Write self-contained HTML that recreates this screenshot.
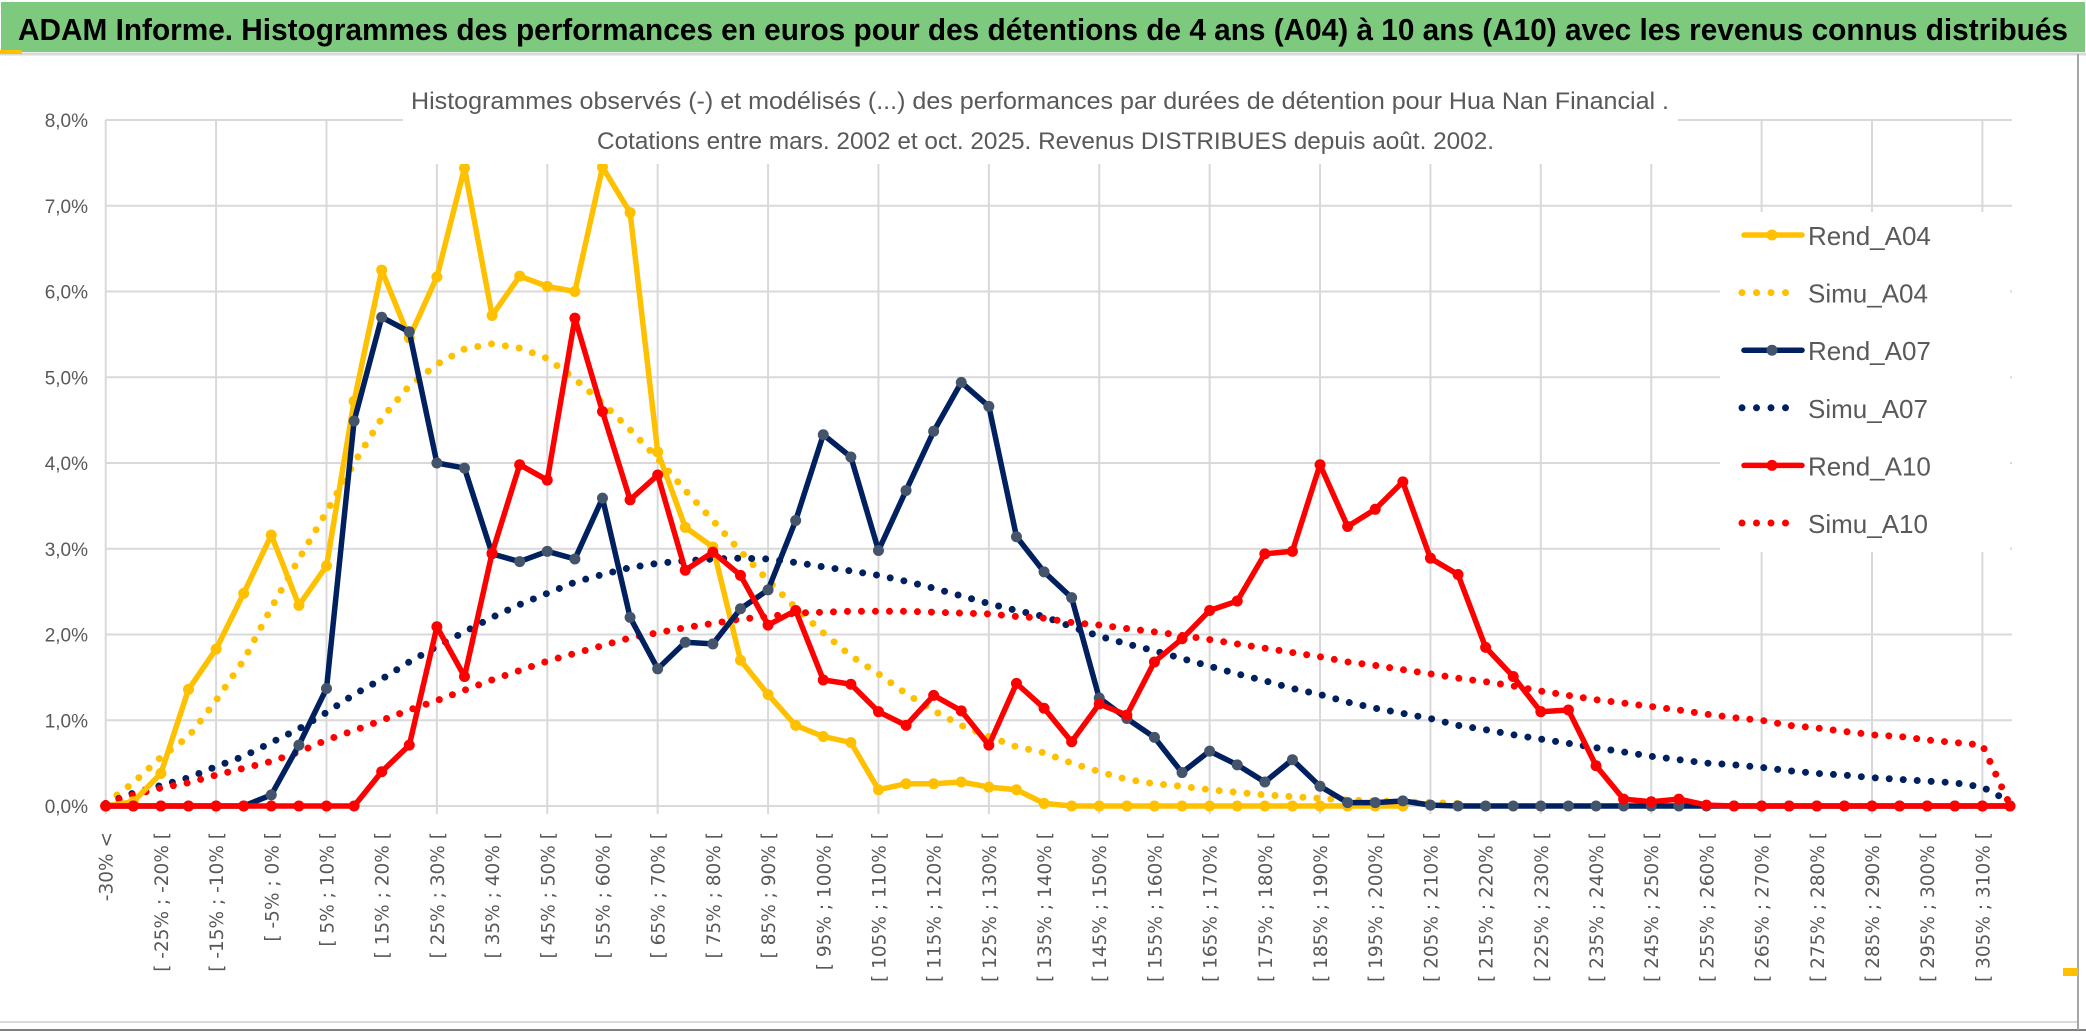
<!DOCTYPE html>
<html><head><meta charset="utf-8">
<style>
html,body{margin:0;padding:0;background:#fff;}
svg{display:block;}
</style></head>
<body>
<svg id="chart" width="2086" height="1033" viewBox="0 0 2086 1033" xmlns="http://www.w3.org/2000/svg">
  <rect x="0" y="0" width="2086" height="1033" fill="#fff"/>
  <rect x="1" y="2" width="2084" height="50" fill="#7DC97E"/>
  <text x="18" y="40" font-family="Liberation Sans, sans-serif" font-size="31" font-weight="bold" fill="#000" textLength="2050" lengthAdjust="spacingAndGlyphs">ADAM Informe. Histogrammes des performances en euros pour des détentions de 4 ans (A04) à 10 ans (A10) avec les revenus connus distribués</text>
  <line x1="0" y1="54" x2="2086" y2="54" stroke="#d9d9d9" stroke-width="3"/>
  <rect x="0" y="50" width="22" height="4" fill="#FFC000"/>
  <g id="grid"></g>
  <g id="series"></g>
  <g id="axes"></g>
  <rect x="403" y="72" width="1275" height="92" fill="#fff"/>
  <text x="411" y="109" font-family="Liberation Sans, sans-serif" font-size="24" fill="#595959" textLength="1258" lengthAdjust="spacingAndGlyphs">Histogrammes observés (-) et modélisés (...) des performances par durées de détention pour Hua Nan Financial .</text>
  <text x="597" y="149" font-family="Liberation Sans, sans-serif" font-size="24" fill="#595959" textLength="897" lengthAdjust="spacingAndGlyphs">Cotations entre mars. 2002 et oct. 2025. Revenus DISTRIBUES depuis août. 2002.</text>
  <g id="legend"></g>
  <line x1="0" y1="1022" x2="2078" y2="1022" stroke="#d9d9d9" stroke-width="2"/>
  <line x1="0" y1="1030" x2="2086" y2="1030" stroke="#7f7f7f" stroke-width="2"/>
  <line x1="2078" y1="54" x2="2078" y2="1030" stroke="#a6a6a6" stroke-width="2"/>
  <rect x="2063" y="968" width="15" height="8" fill="#FFC000"/>
</svg>
<script>
const categories = [];
for (let k = 0; k < 70; k++) categories.push(k === 0 ? "-30% <" : "[ " + (5*k-35) + "% ; " + (5*k-30) + "% [");
const yTicks = [0,1,2,3,4,5,6,7,8];
const yTickLabels = ["0,0%","1,0%","2,0%","3,0%","4,0%","5,0%","6,0%","7,0%","8,0%"];
const rendA04 = [0,0.05,0.38,1.36,1.83,2.48,3.16,2.34,2.8,4.72,6.25,5.46,6.17,7.44,5.72,6.18,6.06,6.0,7.45,6.92,4.13,3.25,3.02,1.70,1.30,0.94,0.81,0.74,0.19,0.26,0.26,0.28,0.22,0.19,0.03,0,0,0,0,0,0,0,0,0,0,0,0,0];
const simuA04 = [0.03,0.27,0.57,0.81,1.23,1.70,2.31,2.88,3.43,4.0,4.52,4.90,5.15,5.33,5.39,5.34,5.22,4.98,4.70,4.39,4.05,3.68,3.33,2.97,2.63,2.31,2.02,1.75,1.54,1.31,1.11,0.94,0.81,0.69,0.62,0.50,0.40,0.31,0.26,0.23,0.19,0.16,0.13,0.11,0.09,0.07,0.06,0.05,0.04,0.03];
const rendA07 = [0,0,0,0,0,0,0.13,0.71,1.37,4.49,5.70,5.53,4.00,3.94,2.94,2.85,2.97,2.88,3.59,2.20,1.60,1.91,1.89,2.30,2.52,3.33,4.33,4.07,2.98,3.68,4.37,4.94,4.66,3.14,2.73,2.43,1.26,1.02,0.80,0.39,0.64,0.48,0.28,0.54,0.23,0.04,0.04,0.06,0.01,0,0,0,0,0,0,0,0,0,0,0,0,0,0,0,0,0,0,0,0,0];
const simuA07 = [0.03,0.15,0.24,0.33,0.46,0.58,0.74,0.90,1.09,1.30,1.48,1.68,1.86,2.03,2.20,2.35,2.48,2.61,2.70,2.78,2.83,2.86,2.88,2.89,2.88,2.84,2.79,2.74,2.69,2.62,2.54,2.45,2.36,2.28,2.21,2.09,1.98,1.89,1.81,1.72,1.63,1.54,1.46,1.37,1.30,1.21,1.14,1.08,1.02,0.94,0.89,0.83,0.78,0.73,0.68,0.63,0.58,0.54,0.50,0.48,0.45,0.41,0.38,0.36,0.33,0.31,0.29,0.27,0.22,0.05];
const rendA10 = [0,0,0,0,0,0,0,0,0,0,0.40,0.71,2.09,1.51,2.95,3.98,3.80,5.69,4.60,3.57,3.86,2.75,2.96,2.69,2.11,2.28,1.47,1.42,1.10,0.94,1.29,1.11,0.71,1.43,1.14,0.75,1.19,1.06,1.68,1.95,2.28,2.39,2.94,2.97,3.98,3.26,3.46,3.78,2.89,2.70,1.85,1.51,1.10,1.12,0.47,0.08,0.05,0.08,0.01,0,0,0,0,0,0,0,0,0,0,0];
const simuA10 = [0.03,0.13,0.21,0.27,0.36,0.44,0.52,0.63,0.77,0.88,1.00,1.12,1.23,1.35,1.47,1.58,1.69,1.78,1.87,1.96,2.02,2.08,2.13,2.18,2.21,2.25,2.26,2.27,2.27,2.27,2.26,2.25,2.24,2.21,2.19,2.14,2.11,2.07,2.03,1.99,1.94,1.89,1.84,1.79,1.74,1.68,1.64,1.59,1.54,1.49,1.45,1.40,1.34,1.29,1.24,1.20,1.16,1.12,1.07,1.03,1.00,0.94,0.91,0.87,0.83,0.81,0.77,0.74,0.71,0.01];
const seriesNames = ["Rend_A04","Simu_A04","Rend_A07","Simu_A07","Rend_A10","Simu_A10"];

const NS = "http://www.w3.org/2000/svg";
const X0 = 105.7, X1 = 2010, Y0 = 806, YTOP = 120, YMAX = 8;
const xPos = i => X0 + (X1 - X0) * i / (categories.length - 1);
const yPos = v => Y0 - (Y0 - YTOP) * v / YMAX;
function mk(tag, attrs, parent) {
  const e = document.createElementNS(NS, tag);
  for (const k in attrs) e.setAttribute(k, attrs[k]);
  parent.appendChild(e);
  return e;
}
const grid = document.getElementById("grid");
const axes = document.getElementById("axes");
const series = document.getElementById("series");
const legend = document.getElementById("legend");

yTicks.forEach((t, j) => {
  const l = mk("line", {x1: X0, x2: 2012, y1: yPos(t), y2: yPos(t), stroke: "#d9d9d9", "stroke-width": 2}, grid);
  
  
  const tx = mk("text", {x: 88, y: yPos(t) + 7, "text-anchor": "end", "font-family": "Liberation Sans, sans-serif", "font-size": 19, fill: "#595959"}, axes);
  tx.textContent = yTickLabels[j];
  
  
});
for (let i = 0; i < categories.length; i += 4) {
  const l = mk("line", {x1: xPos(i), x2: xPos(i), y1: YTOP, y2: Y0 + 8, stroke: "#d9d9d9", "stroke-width": 2}, grid);
  
  
}
for (let i = 0; i < categories.length; i += 2) {
  const x = xPos(i) + 7, y = 832;
  const tx = mk("text", {x: x, y: y, transform: "rotate(-90 " + x + " " + y + ")", "text-anchor": "end", "font-family": "DejaVu Sans, sans-serif", "font-size": 18.5, fill: "#595959"}, axes);
  tx.textContent = categories[i];
  
  
}

function pts(arr) { return arr.map((v, i) => xPos(i).toFixed(1) + "," + yPos(v).toFixed(1)).join(" "); }
function dotted(arr, color, name) {
  const p = mk("polyline", {points: pts(arr), fill: "none", stroke: color, "stroke-width": 7, "stroke-linecap": "round", "stroke-dasharray": "0 14"}, series);
  
  
}
function solid(arr, color, mcolor, name) {
  const p = mk("polyline", {points: pts(arr), fill: "none", stroke: color, "stroke-width": 5.5, "stroke-linejoin": "round"}, series);
  
  
  arr.forEach((v, i) => {
    const c = mk("circle", {cx: xPos(i), cy: yPos(v), r: 5.5, fill: mcolor}, series);
    
    
  });
}
dotted(simuA04, "#FFC000", "simu-a04-line");
dotted(simuA07, "#002060", "simu-a07-line");
dotted(simuA10, "#FF0000", "simu-a10-line");
solid(rendA04, "#FFC000", "#FFC000", "rend-a04-line");
solid(rendA07, "#002060", "#44546A", "rend-a07-line");
solid(rendA10, "#FF0000", "#FF0000", "rend-a10-line");

const lbg = mk("rect", {x: 1720, y: 212, width: 290, height: 340, fill: "#fff"}, legend);


const legColors = ["#FFC000","#FFC000","#002060","#002060","#FF0000","#FF0000"];
const legMarks = ["#FFC000",null,"#44546A",null,"#FF0000",null];
seriesNames.forEach((n, j) => {
  const y = 235 + j * 57.6;
  const g = mk("g", {}, legend);
  
  
  if (legMarks[j]) {
    mk("line", {x1: 1744, x2: 1802, y1: y, y2: y, stroke: legColors[j], "stroke-width": 5.5, "stroke-linecap": "round"}, g);
    mk("circle", {cx: 1772, cy: y, r: 5.5, fill: legMarks[j]}, g);
  } else {
    mk("line", {x1: 1742, x2: (j === 5 ? 1800 : 1790), y1: y, y2: y, stroke: legColors[j], "stroke-width": 7, "stroke-linecap": "round", "stroke-dasharray": "0 14.5"}, g);
  }
  const t = mk("text", {x: 1808, y: y + 10, "font-family": "Liberation Sans, sans-serif", "font-size": 26, fill: "#595959"}, g);
  t.textContent = n;
});
</script>
</body></html>
